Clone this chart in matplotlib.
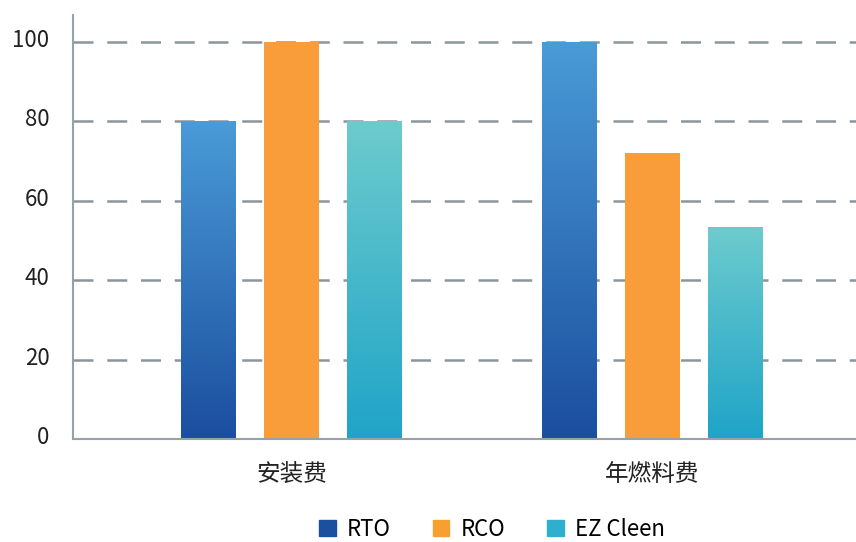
import numpy as np
import matplotlib.pyplot as plt
import matplotlib.transforms as mtransforms
from matplotlib.colors import LinearSegmentedColormap
from matplotlib.patches import Patch

plt.rcParams["font.family"] = ["Noto Sans CJK SC", "DejaVu Sans"]
plt.rcParams["font.weight"] = "medium"

categories = ["安装费", "年燃料费"]
series_names = ["RTO", "RCO", "EZ Cleen"]
rto = [80, 100]
rco = [100, 72]
ez = [80, 53.4]
yticks = [0, 20, 40, 60, 80, 100]

# gradient (top colour, bottom colour) or flat colour per series
fills = [
    ("#4a9bd7", "#1b4e9f"),
    ("#f89d3a", "#f89d3a"),
    ("#6dcbcd", "#1fa4c8"),
]
legend_colors = ["#1b4fa0", "#f7a02f", "#2eafce"]

fig = plt.figure(figsize=(8.56, 5.42), dpi=100)
ax = fig.add_axes([73 / 856, 103 / 542, 783 / 856, 424 / 542])

x = np.arange(len(categories))
offset = 0.231
width = 0.152

for i, (vals, (top, bot)) in enumerate(zip([rto, rco, ez], fills)):
    bars = ax.bar(x + (i - 1) * offset, vals, width=width, color=bot, zorder=2)
    if top != bot:
        cmap = LinearSegmentedColormap.from_list(f"g{i}", [bot, top])
        grad = np.linspace(0, 1, 256).reshape(-1, 1)
        for b in bars:
            x0, y0 = b.get_x(), b.get_y()
            w, h = b.get_width(), b.get_height()
            im = ax.imshow(grad, cmap=cmap, origin="lower", aspect="auto",
                           extent=[x0, x0 + w, y0, y0 + h], zorder=3)
            im.set_clip_path(b)

ax.set_xlim(-0.605, 1.564)
ax.set_ylim(0, 106.8)
ax.set_yticks(yticks)
ax.set_xticks(x)
ax.set_xticklabels(categories, fontsize=17)

for y in yticks[1:]:
    ax.axhline(y, color="#8a959c", lw=1.8, ls=(0, (8, 5.5)), zorder=1)

for s in ["top", "right"]:
    ax.spines[s].set_visible(False)
for s in ["left", "bottom"]:
    ax.spines[s].set_color("#97a1a8")
    ax.spines[s].set_linewidth(1.5)
    ax.spines[s].set_zorder(4)

ax.tick_params(axis="both", length=0, colors="#222222")
ax.tick_params(axis="y", pad=17, labelsize=16)
ax.tick_params(axis="x", pad=17)

shift = mtransforms.ScaledTranslation(0, 4 / 100, fig.dpi_scale_trans)
for lbl in ax.get_yticklabels():
    lbl.set_transform(lbl.get_transform() + shift)

handles = [Patch(color=c) for c in legend_colors]
fig.legend(handles, series_names, loc="center", bbox_to_anchor=(492 / 856, 13 / 542),
           ncol=3, frameon=False, fontsize=16, handlelength=0.75, handleheight=0.75,
           handletextpad=0.5, columnspacing=1.9, borderpad=0.1)

fig.savefig("out.png", dpi=100)
